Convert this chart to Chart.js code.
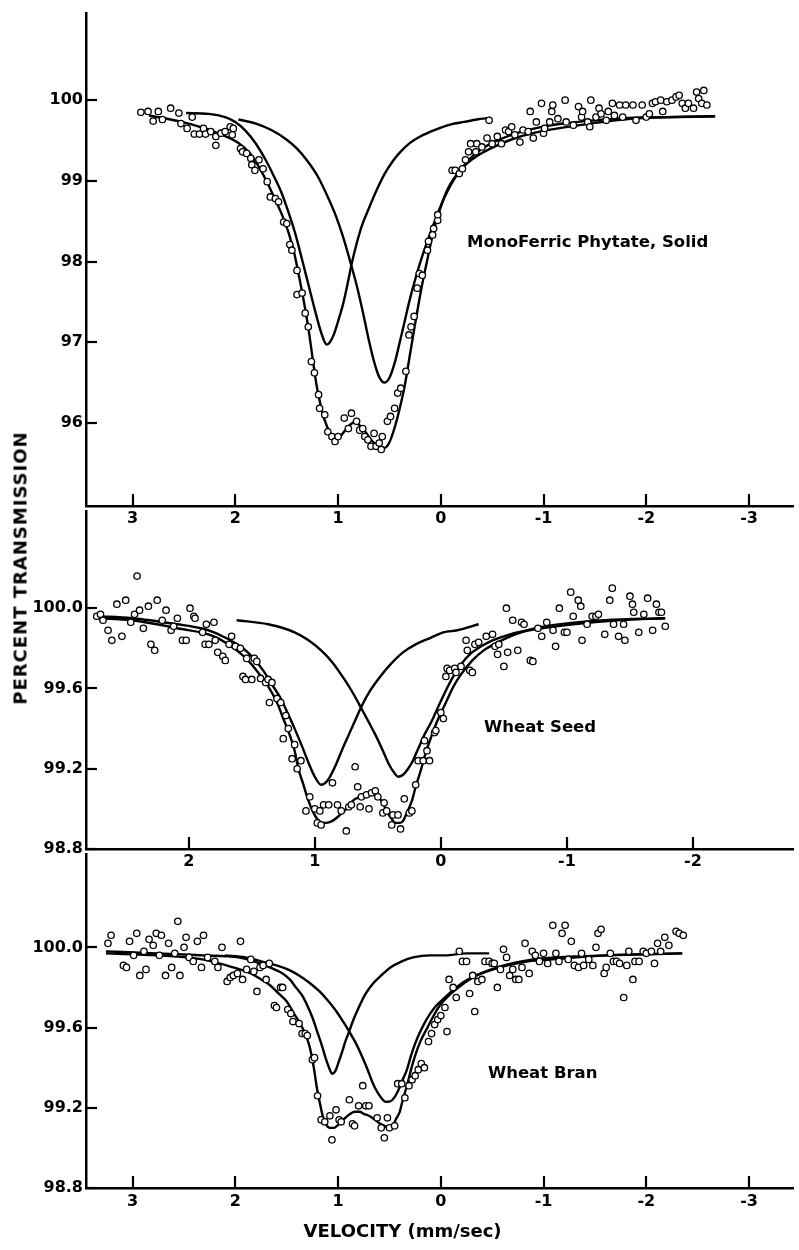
<!DOCTYPE html>
<html>
<head>
<meta charset="utf-8">
<script src="https://cdn.jsdelivr.net/npm/chart.js@4.4.1/dist/chart.umd.min.js"></script>
<style>
  html, body { margin: 0; padding: 0; background: #fff; }
  #wrap { position: relative; width: 799px; height: 1250px; overflow: hidden; background: #fff; }
  #wrap canvas { position: absolute; left: 0; }
  #ytitle {
    position: absolute; left: 20px; top: 568px;
    transform: translate(-50%, -50%) rotate(-90deg);
    font: bold 18px "DejaVu Sans"; letter-spacing: 1px; white-space: nowrap; color: #000;
  }
</style>
</head>
<body>
<div id="wrap">
  <canvas id="panelMono" width="799" height="540" style="top:0;width:799px;height:540px"></canvas>
  <canvas id="panelSeed" width="799" height="377" style="top:506px;width:799px;height:377px"></canvas>
  <canvas id="panelBran" width="799" height="401" style="top:849px;width:799px;height:401px"></canvas>
  <div id="ytitle">PERCENT TRANSMISSION</div>
</div>
<script>
// ---- Mono ferric phytate, solid: measured spectrum [velocity mm/s, % transmission]
const monoPoints = [
  [2.92,99.85],[2.85,99.86],[2.80,99.74],[2.75,99.86],[2.71,99.76],[2.63,99.90],[2.55,99.84],[2.53,99.71],
  [2.47,99.65],[2.42,99.79],[2.40,99.58],[2.35,99.58],[2.31,99.65],[2.29,99.58],[2.24,99.61],[2.19,99.55],
  [2.19,99.44],[2.14,99.59],[2.10,99.61],[2.05,99.67],[2.02,99.65],[2.03,99.57],[1.95,99.40],[1.93,99.36],
  [1.89,99.34],[1.85,99.28],[1.84,99.20],[1.81,99.13],[1.77,99.26],[1.73,99.15],[1.69,98.99],[1.66,98.80],
  [1.61,98.78],[1.58,98.74],[1.53,98.49],[1.50,98.47],[1.47,98.21],[1.45,98.14],[1.40,97.89],[1.40,97.59],
  [1.35,97.61],[1.32,97.36],[1.29,97.19],[1.26,96.76],[1.23,96.62],[1.19,96.35],[1.18,96.18],[1.13,96.10],
  [1.10,95.89],[1.06,95.83],[1.03,95.77],[1.00,95.83],[0.94,96.06],[0.90,95.93],[0.87,96.12],[0.82,96.02],
  [0.79,95.91],[0.76,95.93],[0.74,95.83],[0.71,95.79],[0.68,95.71],[0.65,95.87],[0.63,95.71],[0.60,95.75],
  [0.58,95.67],[0.57,95.83],[0.52,96.02],[0.49,96.08],[0.45,96.18],[0.42,96.37],[0.39,96.43],[0.34,96.64],
  [0.31,97.09],[0.29,97.19],[0.26,97.32],[0.23,97.67],[0.21,97.85],[0.18,97.83],[0.13,98.14],[0.12,98.25],
  [0.08,98.33],[0.07,98.41],[0.03,98.51],[0.03,98.58],
  [-0.11,99.13],[-0.14,99.13],[-0.18,99.09],[-0.21,99.15],[-0.24,99.26],[-0.27,99.36],[-0.29,99.46],[-0.34,99.36],
  [-0.35,99.46],[-0.40,99.42],[-0.45,99.53],[-0.47,99.75],[-0.50,99.46],[-0.55,99.55],[-0.59,99.46],[-0.63,99.63],
  [-0.66,99.61],[-0.69,99.67],[-0.72,99.57],[-0.77,99.48],[-0.80,99.63],[-0.85,99.61],[-0.87,99.86],[-0.90,99.53],
  [-0.93,99.73],[-0.98,99.96],[-1.00,99.59],[-1.01,99.65],[-1.06,99.73],[-1.08,99.86],[-1.09,99.94],[-1.14,99.77],
  [-1.21,100.00],[-1.22,99.73],[-1.29,99.69],[-1.34,99.92],[-1.37,99.79],[-1.38,99.86],[-1.43,99.73],[-1.45,99.67],
  [-1.46,100.00],[-1.51,99.79],[-1.54,99.90],[-1.56,99.83],[-1.61,99.75],[-1.63,99.86],[-1.67,99.96],[-1.69,99.81],
  [-1.74,99.94],[-1.77,99.79],[-1.80,99.94],[-1.87,99.94],[-1.90,99.75],[-1.96,99.94],[-2.00,99.79],[-2.03,99.83],
  [-2.06,99.96],[-2.09,99.98],[-2.14,100.00],[-2.16,99.86],[-2.20,99.98],[-2.25,100.00],[-2.29,100.04],[-2.32,100.06],
  [-2.35,99.96],[-2.38,99.90],[-2.41,99.96],[-2.46,99.90],[-2.49,100.10],[-2.51,100.02],[-2.54,99.96],[-2.56,100.12],
  [-2.59,99.94]
];
// fitted envelope and the two fitted iron sites
const monoFit = [
  [2.84,99.81],[2.52,99.73],[2.19,99.60],[1.97,99.47],[1.85,99.33],[1.77,99.17],[1.69,98.98],[1.61,98.76],
  [1.54,98.56],[1.48,98.35],[1.43,98.12],[1.39,97.88],[1.34,97.55],[1.29,97.18],[1.25,96.82],[1.21,96.47],
  [1.17,96.22],[1.13,96.03],[1.08,95.88],[1.03,95.80],[0.98,95.83],[0.93,95.91],[0.88,95.98],[0.84,96.01],
  [0.80,95.98],[0.74,95.90],[0.68,95.79],[0.61,95.71],[0.55,95.69],[0.50,95.76],[0.45,95.94],[0.40,96.18],
  [0.35,96.47],[0.30,96.85],[0.25,97.23],[0.19,97.66],[0.13,98.03],[0.08,98.33],[0.02,98.60],[-0.06,98.88],
  [-0.15,99.07],[-0.25,99.21],[-0.38,99.33],[-0.55,99.44],[-0.75,99.54],[-1.00,99.62],[-1.35,99.69],[-1.70,99.75],
  [-2.00,99.78],[-2.67,99.80]
];
const monoSiteA = [
  [2.48,99.84],[2.26,99.83],[2.10,99.79],[2.00,99.73],[1.90,99.62],[1.80,99.46],[1.71,99.27],[1.63,99.07],
  [1.55,98.85],[1.48,98.60],[1.42,98.36],[1.37,98.12],[1.32,97.87],[1.27,97.62],[1.22,97.37],[1.17,97.14],
  [1.13,97.00],[1.11,96.97],[1.08,97.00],[1.04,97.10],[1.00,97.26],[0.95,97.48],[0.90,97.77],[0.87,97.96],
  [0.82,98.22],[0.77,98.44],[0.70,98.66],[0.63,98.87],[0.55,99.08],[0.47,99.24],[0.40,99.35],[0.30,99.47],
  [0.20,99.55],[0.10,99.61],[0.00,99.66],[-0.10,99.70],[-0.23,99.73],[-0.35,99.76],[-0.48,99.78]
];
const monoSiteB = [
  [1.97,99.76],[1.80,99.71],[1.65,99.63],[1.50,99.51],[1.40,99.40],[1.30,99.25],[1.20,99.06],[1.10,98.80],
  [1.02,98.56],[0.95,98.30],[0.88,97.99],[0.82,97.71],[0.76,97.38],[0.70,97.02],[0.65,96.76],[0.60,96.57],
  [0.55,96.50],[0.50,96.56],[0.45,96.74],[0.40,97.00],[0.35,97.27],[0.30,97.54],[0.24,97.82],[0.18,98.07],
  [0.12,98.29],[0.05,98.53],[-0.03,98.78],[-0.13,99.02],[-0.25,99.23],[-0.38,99.38],[-0.55,99.50],[-0.71,99.58],
  [-0.95,99.66],[-1.19,99.71],[-1.50,99.75],[-1.83,99.78],[-2.20,99.79],[-2.67,99.80]
];

// ---- Wheat seed
const seedPoints = [
  [2.73,99.96],[2.70,99.97],[2.68,99.94],[2.64,99.89],[2.61,99.84],[2.57,100.02],[2.53,99.86],[2.50,100.04],
  [2.46,99.93],[2.43,99.97],[2.41,100.16],[2.39,99.99],[2.36,99.90],[2.32,100.01],[2.30,99.82],[2.27,99.79],
  [2.25,100.04],[2.21,99.94],[2.18,99.99],[2.14,99.89],[2.12,99.91],[2.09,99.95],[2.05,99.84],[2.02,99.84],
  [1.99,100.00],[1.96,99.96],[1.95,99.95],[1.89,99.88],[1.87,99.82],[1.86,99.92],[1.84,99.82],[1.80,99.93],
  [1.79,99.84],[1.77,99.78],[1.73,99.76],[1.71,99.74],[1.68,99.82],[1.66,99.86],[1.63,99.81],[1.59,99.80],
  [1.57,99.66],[1.55,99.645],[1.54,99.75],[1.50,99.645],[1.48,99.75],[1.46,99.735],[1.43,99.65],[1.39,99.63],
  [1.37,99.645],[1.36,99.53],[1.34,99.63],[1.30,99.55],[1.27,99.53],[1.25,99.35],[1.23,99.465],[1.21,99.40],
  [1.18,99.25],[1.16,99.32],[1.14,99.20],[1.11,99.24],[1.07,98.99],[1.04,99.06],[1.00,99.00],[0.98,98.93],
  [0.96,98.99],[0.95,98.92],[0.93,99.02],[0.89,99.02],[0.86,99.13],[0.82,99.02],[0.79,98.99],[0.75,98.89],
  [0.73,99.01],[0.71,99.02],[0.68,99.21],[0.66,99.11],[0.64,99.01],[0.63,99.06],[0.59,99.07],[0.57,99.00],
  [0.55,99.08],[0.52,99.09],[0.50,99.06],[0.46,98.98],[0.45,99.03],[0.43,98.99],[0.39,98.92],[0.38,98.97],
  [0.34,98.97],[0.32,98.90],[0.29,99.05],[0.25,98.98],[0.23,98.99],[0.20,99.12],[0.18,99.24],[0.14,99.24],
  [0.13,99.34],[0.11,99.29],[0.09,99.24],[0.05,99.38],[0.04,99.39],[0.00,99.48],[-0.02,99.45],[-0.04,99.66],
  [-0.05,99.70],[-0.07,99.69],[-0.11,99.70],[-0.12,99.68],[-0.16,99.71],[-0.20,99.84],[-0.21,99.79],[-0.23,99.69],
  [-0.25,99.68],[-0.27,99.82],[-0.30,99.83],[-0.36,99.86],[-0.41,99.87],[-0.43,99.81],[-0.45,99.77],[-0.46,99.82],
  [-0.50,99.71],[-0.52,100.00],[-0.53,99.78],[-0.57,99.94],[-0.61,99.79],[-0.64,99.93],[-0.66,99.92],[-0.71,99.74],
  [-0.73,99.735],[-0.77,99.90],[-0.80,99.86],[-0.84,99.93],[-0.89,99.89],[-0.91,99.81],[-0.94,100.00],[-0.98,99.88],
  [-1.00,99.88],[-1.03,100.08],[-1.05,99.96],[-1.09,100.04],[-1.11,100.01],[-1.12,99.84],[-1.16,99.92],[-1.20,99.96],
  [-1.23,99.96],[-1.25,99.97],[-1.30,99.87],[-1.34,100.04],[-1.36,100.10],[-1.37,99.92],[-1.41,99.86],[-1.45,99.92],
  [-1.46,99.84],[-1.50,100.06],[-1.52,100.02],[-1.53,99.98],[-1.57,99.88],[-1.61,99.97],[-1.64,100.05],[-1.68,99.89],
  [-1.71,100.02],[-1.73,99.98],[-1.75,99.98],[-1.78,99.91]
];
const seedFit = [
  [2.73,99.95],[2.45,99.94],[2.09,99.90],[1.80,99.86],[1.62,99.79],[1.53,99.74],[1.45,99.68],[1.37,99.61],
  [1.30,99.53],[1.25,99.45],[1.20,99.37],[1.16,99.29],[1.13,99.20],[1.09,99.12],[1.05,99.04],[1.01,98.98],
  [0.98,98.95],[0.94,98.93],[0.91,98.93],[0.86,98.94],[0.80,98.97],[0.75,99.00],[0.70,99.04],[0.64,99.06],
  [0.59,99.07],[0.54,99.07],[0.50,99.06],[0.46,99.03],[0.43,98.99],[0.39,98.95],[0.36,98.93],[0.33,98.93],
  [0.30,98.94],[0.27,98.98],[0.23,99.04],[0.20,99.11],[0.16,99.19],[0.12,99.28],[0.07,99.37],[0.02,99.45],
  [-0.04,99.53],[-0.10,99.61],[-0.16,99.67],[-0.25,99.74],[-0.34,99.79],[-0.45,99.83],[-0.59,99.87],[-0.75,99.90],
  [-0.95,99.92],[-1.30,99.94],[-1.78,99.95]
];
const seedSiteA = [
  [2.73,99.96],[2.45,99.95],[2.09,99.92],[1.90,99.90],[1.80,99.88],[1.70,99.85],[1.59,99.81],[1.50,99.76],
  [1.41,99.69],[1.34,99.62],[1.27,99.55],[1.21,99.47],[1.16,99.40],[1.10,99.31],[1.05,99.23],[1.00,99.16],
  [0.95,99.12],[0.90,99.14],[0.84,99.21],[0.78,99.30],[0.73,99.37],[0.68,99.44],[0.63,99.51],[0.56,99.59],
  [0.48,99.66],[0.40,99.72],[0.30,99.78],[0.20,99.82],[0.09,99.85],[-0.02,99.88],[-0.13,99.89],[-0.30,99.92]
];
const seedSiteB = [
  [1.62,99.94],[1.37,99.92],[1.16,99.88],[1.05,99.84],[0.95,99.79],[0.86,99.73],[0.77,99.65],[0.70,99.58],
  [0.63,99.50],[0.57,99.43],[0.52,99.37],[0.46,99.29],[0.41,99.22],[0.37,99.18],[0.34,99.16],[0.30,99.17],
  [0.26,99.20],[0.23,99.23],[0.18,99.30],[0.13,99.37],[0.07,99.44],[0.02,99.51],[-0.04,99.59],[-0.09,99.65],
  [-0.16,99.72],[-0.23,99.77],[-0.32,99.81],[-0.41,99.84],[-0.55,99.87],[-0.70,99.89],[-1.05,99.92],[-1.41,99.94],
  [-1.78,99.95]
];

// ---- Wheat bran
const branPoints = [
  [3.24,100.02],[3.21,100.06],[3.09,99.91],[3.06,99.90],[3.03,100.03],[2.99,99.96],[2.96,100.07],[2.93,99.86],
  [2.89,99.98],[2.87,99.89],[2.84,100.04],[2.80,100.01],[2.77,100.07],[2.74,99.96],[2.72,100.06],[2.68,99.86],
  [2.65,100.02],[2.62,99.90],[2.59,99.97],[2.56,100.13],[2.54,99.86],[2.50,100.00],[2.48,100.05],[2.45,99.95],
  [2.41,99.93],[2.37,100.03],[2.33,99.90],[2.31,100.06],[2.27,99.95],[2.20,99.93],[2.17,99.90],[2.13,100.00],
  [2.08,99.83],[2.05,99.85],[2.02,99.86],[1.98,99.87],[1.95,100.03],[1.93,99.84],[1.89,99.89],[1.85,99.94],
  [1.82,99.88],[1.79,99.78],[1.76,99.90],[1.73,99.91],[1.70,99.84],[1.67,99.92],[1.62,99.71],[1.60,99.70],
  [1.56,99.80],[1.54,99.80],[1.49,99.69],[1.46,99.67],[1.44,99.63],[1.38,99.62],[1.35,99.57],[1.32,99.57],
  [1.30,99.56],[1.25,99.44],[1.23,99.45],[1.20,99.26],[1.165,99.14],[1.13,99.13],[1.08,99.16],[1.06,99.04],
  [1.02,99.19],[0.99,99.14],[0.97,99.13],[0.89,99.24],[0.86,99.12],[0.84,99.11],[0.80,99.21],[0.76,99.31],
  [0.73,99.21],[0.70,99.21],[0.62,99.15],[0.58,99.10],[0.55,99.05],[0.52,99.15],[0.50,99.10],[0.45,99.11],
  [0.42,99.32],[0.38,99.32],[0.35,99.25],[0.31,99.31],[0.28,99.34],[0.25,99.36],[0.22,99.39],[0.19,99.42],
  [0.16,99.40],[0.12,99.53],[0.09,99.57],[0.06,99.615],[0.03,99.64],[0.00,99.66],[-0.04,99.70],[-0.06,99.58],
  [-0.08,99.84],[-0.12,99.80],[-0.15,99.75],[-0.18,99.98],[-0.21,99.93],[-0.25,99.93],[-0.28,99.77],[-0.31,99.86],
  [-0.33,99.68],[-0.36,99.83],[-0.40,99.84],[-0.43,99.93],[-0.47,99.93],[-0.50,99.92],[-0.52,99.92],[-0.55,99.80],
  [-0.58,99.89],[-0.61,99.99],[-0.64,99.95],[-0.67,99.86],[-0.70,99.89],[-0.73,99.84],[-0.76,99.84],[-0.79,99.90],
  [-0.82,100.02],[-0.86,99.87],[-0.89,99.98],[-0.92,99.96],[-0.96,99.93],[-1.00,99.97],[-1.04,99.92],[-1.09,100.11],
  [-1.12,99.97],[-1.15,99.93],[-1.18,100.07],[-1.21,100.11],[-1.24,99.94],[-1.27,100.03],[-1.30,99.91],[-1.34,99.90],
  [-1.37,99.97],[-1.39,99.91],[-1.44,99.94],[-1.48,99.91],[-1.51,100.00],[-1.53,100.07],[-1.56,100.09],[-1.59,99.87],
  [-1.61,99.90],[-1.65,99.97],[-1.68,99.93],[-1.71,99.93],[-1.74,99.92],[-1.78,99.75],[-1.81,99.91],[-1.83,99.98],
  [-1.87,99.84],[-1.89,99.93],[-1.93,99.93],[-1.97,99.98],[-2.00,99.97],[-2.05,99.98],[-2.08,99.92],[-2.11,100.02],
  [-2.14,99.98],[-2.18,100.05],[-2.22,100.01],[-2.29,100.08],[-2.32,100.07],[-2.36,100.06]
];
const branFit = [
  [3.26,99.97],[2.76,99.96],[2.32,99.94],[2.02,99.90],[1.85,99.87],[1.75,99.84],[1.66,99.81],[1.58,99.77],
  [1.50,99.73],[1.43,99.67],[1.37,99.62],[1.32,99.57],[1.28,99.51],[1.25,99.44],[1.23,99.38],[1.21,99.31],
  [1.18,99.23],[1.15,99.16],[1.12,99.12],[1.08,99.10],[1.04,99.10],[1.01,99.11],[0.97,99.13],[0.93,99.15],
  [0.88,99.17],[0.84,99.18],[0.79,99.18],[0.75,99.17],[0.70,99.16],[0.64,99.14],[0.59,99.12],[0.55,99.11],
  [0.51,99.10],[0.47,99.11],[0.43,99.15],[0.40,99.18],[0.37,99.24],[0.33,99.31],[0.29,99.39],[0.25,99.46],
  [0.20,99.53],[0.14,99.59],[0.08,99.65],[0.01,99.71],[-0.08,99.76],[-0.17,99.80],[-0.28,99.84],[-0.39,99.87],
  [-0.55,99.90],[-0.69,99.92],[-0.90,99.94],[-1.13,99.95],[-1.61,99.96],[-2.35,99.97]
];
const branSiteA = [
  [3.26,99.98],[2.76,99.97],[2.32,99.96],[1.97,99.95],[1.71,99.91],[1.62,99.89],[1.54,99.87],[1.47,99.84],
  [1.41,99.80],[1.35,99.76],[1.30,99.71],[1.25,99.65],[1.21,99.59],[1.17,99.53],[1.14,99.48],[1.11,99.43],
  [1.08,99.39],[1.06,99.37],[1.03,99.38],[1.00,99.42],[0.96,99.48],[0.93,99.53],[0.90,99.57],[0.85,99.64],
  [0.79,99.71],[0.73,99.77],[0.66,99.82],[0.58,99.86],[0.49,99.90],[0.38,99.93],[0.27,99.95],[0.10,99.96],
  [-0.04,99.96],[-0.25,99.97],[-0.47,99.97]
];
const branSiteB = [
  [2.10,99.96],[1.90,99.95],[1.75,99.93],[1.60,99.91],[1.49,99.89],[1.38,99.86],[1.27,99.82],[1.18,99.78],
  [1.10,99.735],[1.03,99.69],[0.97,99.645],[0.92,99.605],[0.88,99.57],[0.83,99.525],[0.77,99.46],[0.72,99.40],
  [0.66,99.32],[0.62,99.28],[0.58,99.25],[0.54,99.23],[0.51,99.23],[0.47,99.24],[0.42,99.28],[0.38,99.33],
  [0.33,99.39],[0.29,99.46],[0.25,99.52],[0.20,99.58],[0.14,99.64],[0.06,99.70],[-0.04,99.75],[-0.15,99.80],
  [-0.30,99.85],[-0.45,99.88],[-0.65,99.91],[-0.85,99.93],[-1.09,99.94],[-1.61,99.96],[-2.35,99.97]
];

// ---- tick values and labels
const velocityTicksWide = [3, 2, 1, 0, -1, -2, -3];
const velocityLabelsWide = ['3', '2', '1', '0', '-1', '-2', '-3'];
const velocityTicksNarrow = [2, 1, 0, -1, -2];
const velocityLabelsNarrow = ['2', '1', '0', '-1', '-2'];
const monoTransTicks = [96, 97, 98, 99, 100];
const monoTransLabels = ['96', '97', '98', '99', '100'];
const wheatTransTicks = [98.8, 99.2, 99.6, 100.0];
const wheatTransLabels = ['98.8', '99.2', '99.6', '100.0'];

const INK = '#000';
const tickFont = { family: 'DejaVu Sans', weight: 'bold', size: 16 };

// short tick marks pointing into the plot
const innerTicks = {
  id: 'innerTicks',
  afterDraw(chart) {
    const { ctx, chartArea: a } = chart;
    const xs = chart.scales.x, ys = chart.scales.y;
    ctx.save();
    ctx.strokeStyle = INK;
    ctx.lineWidth = 2.2;
    xs.ticks.forEach((t, i) => {
      const px = Math.round(xs.getPixelForTick(i));
      ctx.beginPath(); ctx.moveTo(px, a.bottom); ctx.lineTo(px, a.bottom - 12); ctx.stroke();
    });
    ys.ticks.forEach((t, i) => {
      const py = Math.round(ys.getPixelForTick(i));
      ctx.beginPath(); ctx.moveTo(a.left, py); ctx.lineTo(a.left + 11, py); ctx.stroke();
    });
    ctx.restore();
  }
};

// sample name inside the panel (data units) and the velocity caption under the axis
const panelLabel = {
  id: 'panelLabel',
  afterDraw(chart, args, opts) {
    const { ctx, chartArea: a } = chart;
    const xs = chart.scales.x, ys = chart.scales.y;
    ctx.save();
    ctx.fillStyle = INK;
    ctx.textBaseline = 'middle';
    if (opts.text) {
      ctx.font = 'bold 16.5px "DejaVu Sans"';
      ctx.textAlign = 'left';
      ctx.fillText(opts.text, xs.getPixelForValue(opts.x), ys.getPixelForValue(opts.y));
    }
    if (opts.caption) {
      ctx.font = 'bold 18px "DejaVu Sans"';
      ctx.textAlign = 'center';
      ctx.fillText(opts.caption, xs.getPixelForValue(opts.captionX), a.bottom + opts.captionGap);
    }
    ctx.restore();
  }
};

const toXY = pts => pts.map(([x, y]) => ({ x, y }));
const curve = pts => ({
  type: 'line', data: toXY(pts), showLine: true, fill: false,
  borderColor: INK, borderWidth: 2.4, pointRadius: 0,
  cubicInterpolationMode: 'monotone', order: 2
});

function makePanel(id, p) {
  return new Chart(document.getElementById(id), {
    type: 'scatter',
    data: {
      datasets: [
        { data: toXY(p.points), showLine: false, pointRadius: 3.2, pointBorderWidth: 1.3,
          pointBorderColor: INK, pointBackgroundColor: '#fff', order: 1 },
        curve(p.fit), curve(p.siteA), curve(p.siteB)
      ]
    },
    options: {
      responsive: false, animation: false, devicePixelRatio: 1,
      layout: { padding: { top: p.padTop, left: 0, right: 0, bottom: 0 } },
      plugins: { legend: { display: false }, tooltip: { enabled: false }, panelLabel: p.label },
      scales: {
        x: {
          type: 'linear', reverse: true, min: p.xMin, max: p.xMax,
          afterBuildTicks: s => { s.ticks = p.xTicks.map(v => ({ value: v })); },
          afterFit: s => { s.height = p.xAxisHeight; s.paddingLeft = 0; s.paddingRight = 0; },
          grid: { display: false, drawTicks: false },
          border: { display: true, color: INK, width: 2.5 },
          ticks: { autoSkip: false, maxRotation: 0, padding: p.xPad, color: INK, font: tickFont,
                   callback: (v, i) => p.xLabels[i] }
        },
        y: {
          type: 'linear', min: p.yMin, max: p.yMax,
          afterBuildTicks: s => { s.ticks = p.yTicks.map(v => ({ value: v })); },
          afterFit: s => { s.width = 86; s.paddingTop = 0; s.paddingBottom = 0; },
          grid: { display: false, drawTicks: false },
          border: { display: true, color: INK, width: 2.5 },
          ticks: { autoSkip: false, padding: 3, color: INK, font: tickFont,
                   callback: (v, i) => p.yLabels[i] }
        }
      }
    },
    plugins: [innerTicks, panelLabel]
  });
}

makePanel('panelMono', {
  points: monoPoints, fit: monoFit, siteA: monoSiteA, siteB: monoSiteB,
  xMin: -3.435, xMax: 3.454, xTicks: velocityTicksWide, xLabels: velocityLabelsWide,
  yMin: 94.97, yMax: 101.08, yTicks: monoTransTicks, yLabels: monoTransLabels,
  padTop: 13, xAxisHeight: 34, xPad: 3,
  label: { text: 'MonoFerric Phytate, Solid', x: -0.256, y: 98.23 }
});
makePanel('panelSeed', {
  points: seedPoints, fit: seedFit, siteA: seedSiteA, siteB: seedSiteB,
  xMin: -2.799, xMax: 2.815, xTicks: velocityTicksNarrow, xLabels: velocityLabelsNarrow,
  yMin: 98.8, yMax: 100.483, yTicks: wheatTransTicks, yLabels: wheatTransLabels,
  padTop: 0, xAxisHeight: 34, xPad: 3,
  label: { text: 'Wheat Seed', x: -0.343, y: 99.406 }
});
makePanel('panelBran', {
  points: branPoints, fit: branFit, siteA: branSiteA, siteB: branSiteB,
  xMin: -3.435, xMax: 3.454, xTicks: velocityTicksWide, xLabels: velocityLabelsWide,
  yMin: 98.8, yMax: 100.464, yTicks: wheatTransTicks, yLabels: wheatTransLabels,
  padTop: 0, xAxisHeight: 62, xPad: 4,
  label: { text: 'Wheat Bran', x: -0.459, y: 99.372,
           caption: 'VELOCITY (mm/sec)', captionX: 0.372, captionGap: 44 }
});
</script>
</body>
</html>
